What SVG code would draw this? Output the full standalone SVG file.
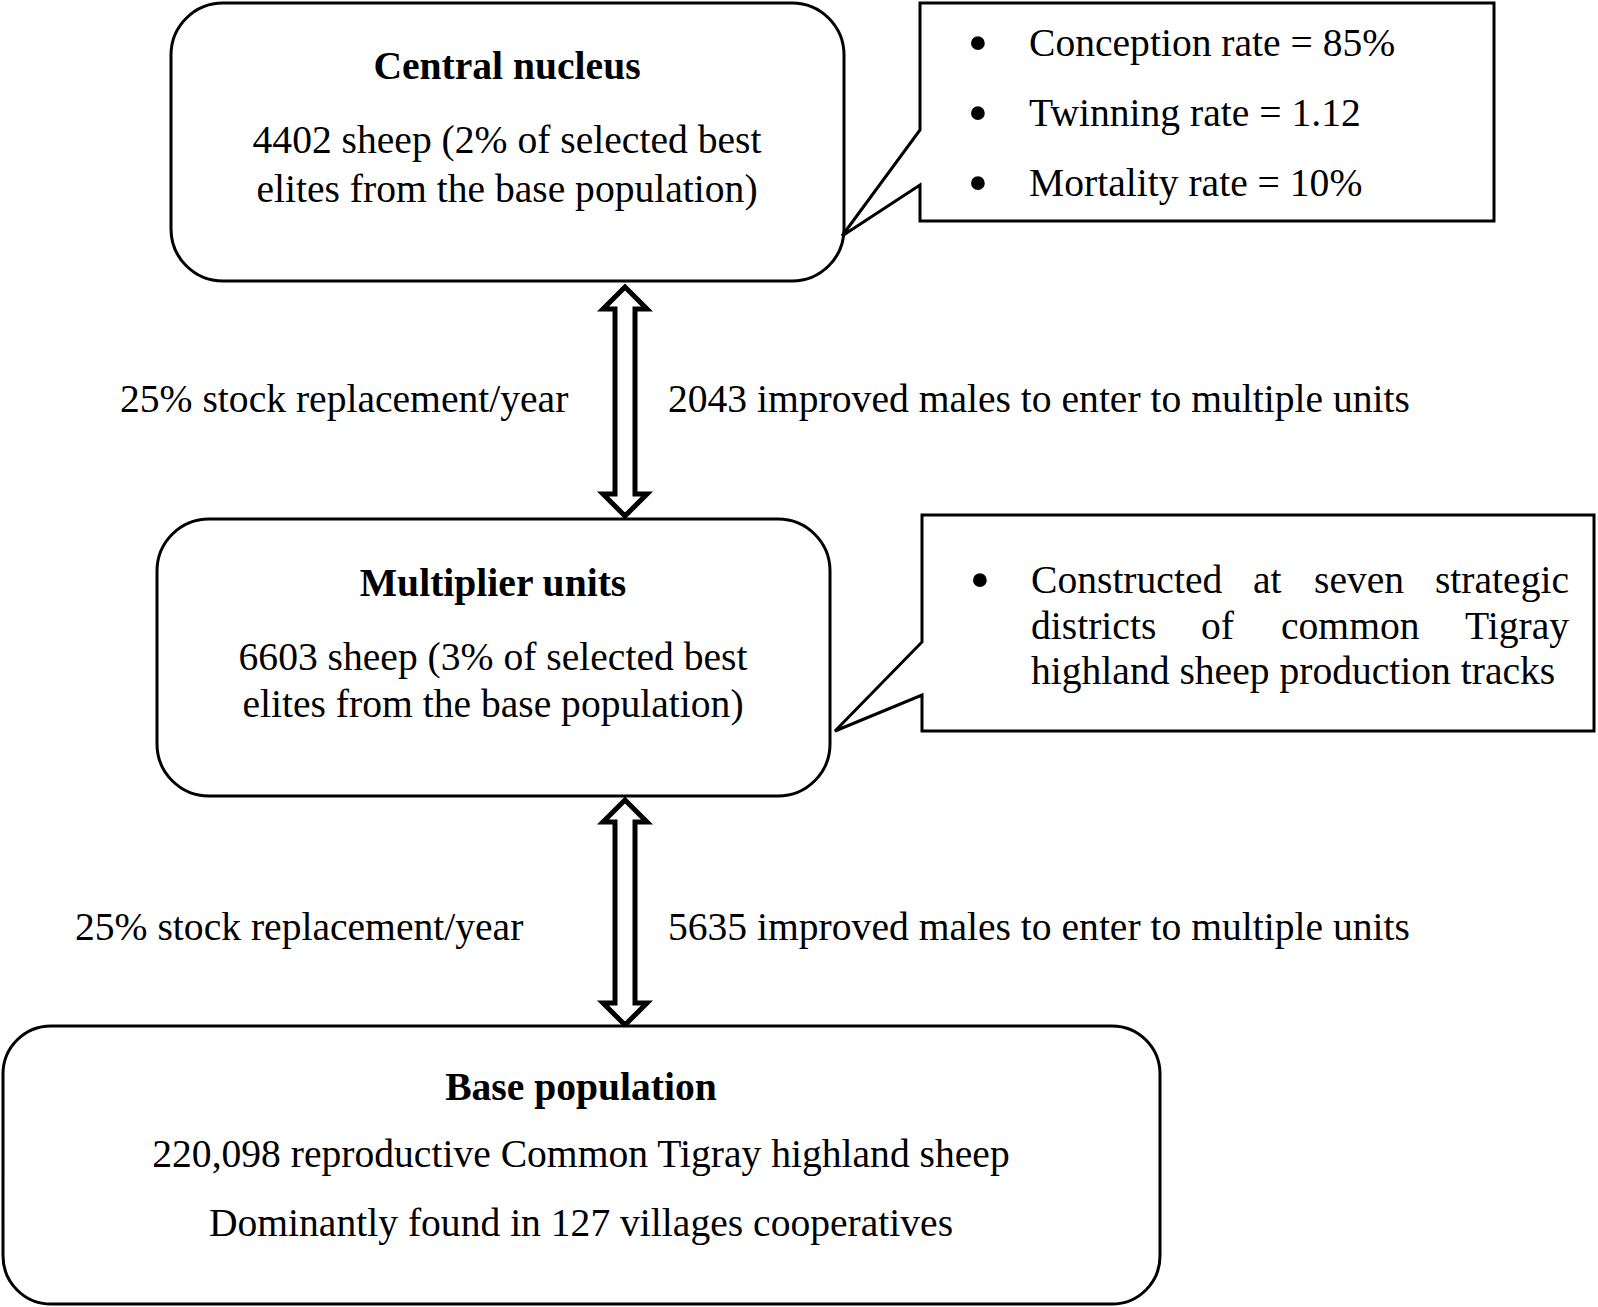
<svg xmlns="http://www.w3.org/2000/svg" width="1598" height="1307" viewBox="0 0 1598 1307">
<style>
.box{fill:#fff;stroke:#000;stroke-width:3}
.call{fill:#fff;stroke:#000;stroke-width:3;stroke-linejoin:miter}
.arr{fill:#fff;stroke:#000;stroke-width:5;stroke-linejoin:miter}
text{font-family:"Liberation Serif","Times New Roman",serif;font-size:39.6px;fill:#000}
.b{font-weight:bold}
.m{text-anchor:middle}
.e{text-anchor:end}
.bul{font-size:58px;text-anchor:middle}
</style>
<rect width="1598" height="1307" fill="#fff"/>
<g id="connectors">
<path class="arr" d="M625,287 L647,309 L635,309 L635,494 L647,494 L625,516 L603,494 L615,494 L615,309 L603,309 Z"/>
<path class="arr" d="M625,800 L647,822 L635,822 L635,1003 L647,1003 L625,1025 L603,1003 L615,1003 L615,822 L603,822 Z"/>
<text x="120" y="412">25% stock replacement/year</text>
<text x="668" y="412">2043 improved males to enter to multiple units</text>
<text x="75" y="940">25% stock replacement/year</text>
<text x="668" y="940">5635 improved males to enter to multiple units</text>
</g>
<g id="central-nucleus">
<rect class="box" x="171" y="3" width="673" height="278" rx="52"/>
<text class="b m" x="507" y="79">Central nucleus</text>
<text class="m" x="507" y="153">4402 sheep (2% of selected best</text>
<text class="m" x="507" y="202">elites from the base population)</text>
</g>
<g id="callout-rates">
<path class="call" d="M920,3 H1494 V221 H920 V185 L842,236 L920,130 Z"/>
<text x="978" y="62" class="bul">•</text>
<text x="1029" y="56">Conception rate = 85%</text>
<text x="978" y="132" class="bul">•</text>
<text x="1029" y="126">Twinning rate = 1.12</text>
<text x="978" y="202" class="bul">•</text>
<text x="1029" y="196">Mortality rate = 10%</text>
</g>
<g id="multiplier-units">
<rect class="box" x="157" y="519" width="673" height="277" rx="52"/>
<text class="b m" x="493" y="596">Multiplier units</text>
<text class="m" x="493" y="670">6603 sheep (3% of selected best</text>
<text class="m" x="493" y="717">elites from the base population)</text>
</g>
<g id="callout-districts">
<path class="call" d="M922,515 H1594 V731 H922 V695 L835,731 L922,642 Z"/>
<text x="980" y="599" class="bul">•</text>
<text y="593"><tspan x="1031">Constructed</tspan><tspan x="1253">at</tspan><tspan x="1314">seven</tspan></text>
<text x="1569" y="593" class="e">strategic</text>
<text y="639"><tspan x="1031">districts</tspan><tspan x="1201">of</tspan><tspan x="1281">common</tspan></text>
<text x="1569" y="639" class="e">Tigray</text>
<text x="1031" y="684">highland sheep production tracks</text>
</g>
<g id="base-population">
<rect class="box" x="3" y="1026" width="1157" height="278" rx="48"/>
<text class="b m" x="581" y="1100">Base population</text>
<text class="m" x="581" y="1167">220,098 reproductive Common Tigray highland sheep</text>
<text class="m" x="581" y="1236">Dominantly found in 127 villages cooperatives</text>
</g>
</svg>
